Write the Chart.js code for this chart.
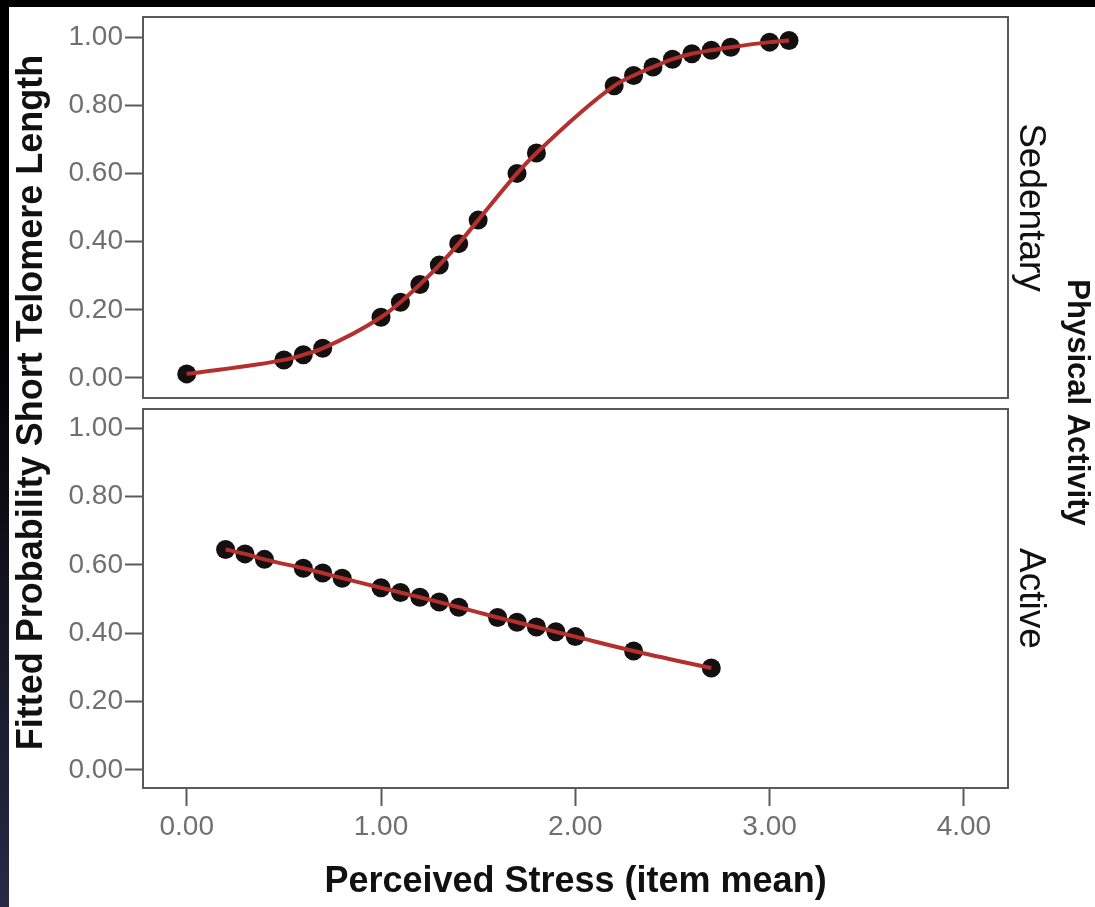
<!DOCTYPE html>
<html>
<head>
<meta charset="utf-8">
<script src="https://cdn.jsdelivr.net/npm/chart.js@4.4.1/dist/chart.umd.min.js"></script>
<style>
  html, body { margin: 0; padding: 0; }
  body {
    width: 1095px;
    height: 907px;
    overflow: hidden;
    background: linear-gradient(to bottom, #000 0%, #000 35%, #2a2845 100%);
    position: relative;
  }
  #chart {
    position: absolute;
    left: 9px;
    top: 7px;
    background: #fff;
  }
</style>
</head>
<body>
<canvas id="chart" width="1086" height="900"></canvas>
<script>
// Sedentary panel (top)
const sedentaryX = [0, 0.5, 0.6, 0.7, 1.0, 1.1, 1.2, 1.3, 1.4, 1.5, 1.7, 1.8, 2.2, 2.3, 2.4, 2.5, 2.6, 2.7, 2.8, 3.0, 3.1];
const sedentaryY = [0.012, 0.053, 0.068, 0.087, 0.178, 0.222, 0.274, 0.331, 0.394, 0.463, 0.600, 0.660, 0.857, 0.887, 0.912, 0.935, 0.951, 0.961, 0.970, 0.985, 0.990];

// Active panel (bottom)
const activeX = [0.2, 0.3, 0.4, 0.6, 0.7, 0.8, 1.0, 1.1, 1.2, 1.3, 1.4, 1.6, 1.7, 1.8, 1.9, 2.0, 2.3, 2.7];
const activeY = [0.645, 0.632, 0.616, 0.590, 0.576, 0.561, 0.533, 0.519, 0.505, 0.491, 0.476, 0.446, 0.432, 0.418, 0.404, 0.390, 0.348, 0.298];

// tick labels
const xTicks = [0, 1, 2, 3, 4];
const yTicks = [0, 0.2, 0.4, 0.6, 0.8, 1.0];

const panelLabels = ["Sedentary", "Active"];
const facetTitle = "Physical Activity";
const xTitle = "Perceived Stress (item mean)";
const yTitle = "Fitted Probability Short Telomere Length";

const lineColor = "#b3302f";
const dotColor = "#141010";
const frameColor = "#5a5a5a";
const tickColor = "#6f6f6f";
const fontFamily = "'Liberation Sans', Arial, sans-serif";

function toPoints(xs, ys) {
  return xs.map((x, i) => ({ x: x, y: ys[i] }));
}

// panel frames
const framePlugin = {
  id: "frames",
  afterDatasetsDraw(chart) {
    const ctx = chart.ctx;
    const a = chart.chartArea;
    ctx.save();
    ctx.strokeStyle = frameColor;
    ctx.lineWidth = 2;
    ["y1", "y2"].forEach((id) => {
      const s = chart.scales[id];
      ctx.strokeRect(a.left, s.top, a.right - a.left, s.bottom - s.top);
    });
    ctx.restore();
  },
};

function valueAxis(weight, stackWeight, min, max) {
  return {
    type: "linear",
    axis: "y",
    position: "left",
    stack: "left",
    stackWeight: stackWeight,
    weight: weight,
    min: min,
    max: max,
    afterBuildTicks: (axis) => {
      axis.ticks = yTicks.map((v) => ({ value: v }));
    },
    afterFit: (axis) => {
      axis.width = 88;
      axis.paddingTop = 0;
      axis.paddingBottom = 0;
    },
    border: { display: false },
    grid: {
      drawOnChartArea: false,
      drawTicks: true,
      tickLength: 18,
      tickWidth: 2,
      tickColor: frameColor,
    },
    ticks: {
      padding: 2,
      color: tickColor,
      font: { family: fontFamily, size: 28 },
      callback: (v) => Number(v).toFixed(2),
    },
  };
}

function blankAxis(position, stack, weight, stackWeight, width, title, font, pad) {
  const axis = {
    type: "linear",
    axis: "y",
    position: position,
    stackWeight: stackWeight,
    weight: weight,
    min: 0,
    max: 1,
    afterFit: (a) => {
      a.width = width;
      a.paddingTop = 0;
      a.paddingBottom = 0;
    },
    border: { display: false },
    grid: { display: false },
    ticks: { display: false },
    title: {
      display: !!title,
      text: title || "",
      color: "#111",
      font: font,
      padding: pad,
    },
  };
  if (stack) axis.stack = stack;
  return axis;
}

const titleFont = { family: fontFamily, size: 36, weight: "bold" };
const panelFont = { family: fontFamily, size: 37, weight: "normal" };
const facetFont = { family: fontFamily, size: 31, weight: "bold" };

const scales = {
  x: {
    type: "linear",
    position: "bottom",
    min: -0.225,
    max: 4.227,
    afterBuildTicks: (axis) => {
      axis.ticks = xTicks.map((v) => ({ value: v }));
    },
    afterFit: (axis) => {
      axis.height = 119;
    },
    border: { display: false },
    grid: {
      drawOnChartArea: false,
      drawTicks: true,
      tickLength: 18,
      tickWidth: 2,
      tickColor: frameColor,
    },
    ticks: {
      padding: 4,
      maxRotation: 0,
      color: tickColor,
      font: { family: fontFamily, size: 28 },
      callback: (v) => Number(v).toFixed(2),
    },
    title: {
      display: true,
      text: xTitle,
      color: "#111",
      font: titleFont,
      padding: { top: 0, bottom: 3 },
    },
  },
  yTitle: blankAxis("left", null, 10, 1, 46, yTitle, titleFont, { top: 1, bottom: 2 }),
  y1: valueAxis(3, 381, -0.0587, 1.0587),
  yGapL: blankAxis("left", "left", 2, 11, 88, null, titleFont, 0),
  y2: valueAxis(1, 379, -0.053, 1.056),
  y1r: blankAxis("right", "right", 1, 381, 44, panelLabels[0], panelFont, { top: 0, bottom: 0 }),
  yGapR: blankAxis("right", "right", 2, 11, 44, null, panelFont, 0),
  y2r: blankAxis("right", "right", 3, 379, 44, panelLabels[1], panelFont, { top: 0, bottom: 0 }),
  yFacet: blankAxis("right", null, 10, 1, 43, facetTitle, facetFont, { top: 0, bottom: 0 }),
};

function lineSet(xs, ys, axisId) {
  return {
    type: "line",
    data: toPoints(xs, ys),
    yAxisID: axisId,
    borderColor: lineColor,
    borderWidth: 4,
    pointRadius: 0,
    cubicInterpolationMode: "monotone",
    fill: false,
    order: 0,
  };
}

function dotSet(xs, ys, axisId) {
  return {
    type: "scatter",
    data: toPoints(xs, ys),
    yAxisID: axisId,
    backgroundColor: dotColor,
    borderColor: dotColor,
    borderWidth: 0,
    pointRadius: 9.5,
    showLine: false,
    order: 1,
  };
}

new Chart(document.getElementById("chart").getContext("2d"), {
  type: "scatter",
  data: {
    datasets: [
      lineSet(sedentaryX, sedentaryY, "y1"),
      lineSet(activeX, activeY, "y2"),
      dotSet(sedentaryX, sedentaryY, "y1"),
      dotSet(activeX, activeY, "y2"),
    ],
  },
  options: {
    responsive: false,
    animation: false,
    layout: { padding: { top: 10, left: 0, right: 0, bottom: 0 } },
    plugins: {
      legend: { display: false },
      tooltip: { enabled: false },
    },
    scales: scales,
  },
  plugins: [framePlugin],
});
</script>
</body>
</html>
